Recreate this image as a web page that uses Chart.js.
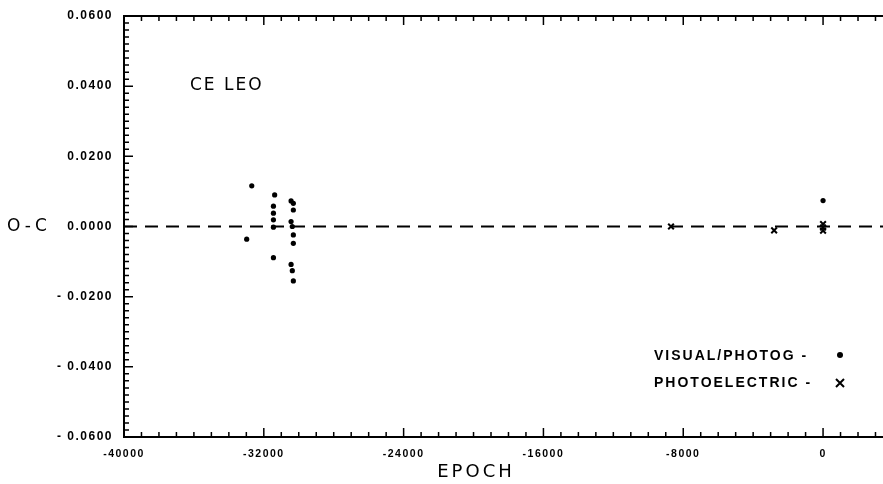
<!DOCTYPE html>
<html lang="en">
<head>
<meta charset="UTF-8">
<title>CE LEO O-C diagram</title>
<script src="https://cdn.jsdelivr.net/npm/chart.js@4.4.1/dist/chart.umd.min.js"></script>
<style>
    html, body { margin: 0; padding: 0; background: #fff; }
    canvas { display: block; }
</style>
</head>
<body>
<canvas id="chart" width="883" height="484"></canvas>
<script>
    // star name shown inside the plot
    var starName = "CE LEO";

    // visual / photographic timings (epoch, O-C in days)
    var visualEpoch = [-32690, -32980, -31380, -31450, -31450, -31450, -31450, -31450,
        -30440, -30310, -30310, -30440, -30370, -30310, -30310, -30440, -30370, -30310, 0];
    var visualOC = [0.0116, -0.0036, 0.0090, 0.0058, 0.0038, 0.0019, -0.0002, -0.0089,
        0.0073, 0.0066, 0.0047, 0.0014, 0.0000, -0.0024, -0.0048, -0.0108, -0.0126, -0.0155, 0.0074];

    // photoelectric timings
    var photoEpoch = [-8700, -2800, 0, 0, 0];
    var photoOC = [0.0000, -0.0011, 0.0007, -0.0003, -0.0012];

    // zero reference line
    var zeroEpoch = [-40000, 3430];
    var zeroOC = [0, 0];

    // labelled ticks
    var xTicks = [-40000, -32000, -24000, -16000, -8000, 0];
    var yTicks = [-0.06, -0.04, -0.02, 0, 0.02, 0.04, 0.06];

    var labels = ["VISUAL/PHOTOG", "PHOTOELECTRIC"];

    function pts(xs, ys) {
        return xs.map(function (v, i) { return { x: v, y: ys[i] }; });
    }

    // frame on top, inward ticks, texts and legend
    var frame = {
        id: "frame",
        beforeDraw: function (chart) {
            chart.ctx.letterSpacing = "1.5px";
        },
        afterDraw: function (chart) {
            var ctx = chart.ctx, a = chart.chartArea;
            var sx = chart.scales.x, sy = chart.scales.y;
            ctx.save();
            ctx.strokeStyle = "#000";
            ctx.lineWidth = 2;
            ctx.beginPath();
            ctx.moveTo(a.left - 1, a.top);
            ctx.lineTo(a.right, a.top);
            ctx.stroke();

            ctx.lineWidth = 1.5;
            ctx.beginPath();
            for (var v = sx.min; v <= sx.max; v += 1000) {
                var px = sx.getPixelForValue(v);
                var len = (v % 8000 === 0) ? 9 : 5;
                ctx.moveTo(px, a.bottom); ctx.lineTo(px, a.bottom - len);
                ctx.moveTo(px, a.top); ctx.lineTo(px, a.top + len);
            }
            for (var i = -30; i <= 30; i++) {
                var py = sy.getPixelForValue(i * 0.002);
                var l = (i % 10 === 0) ? 9 : 5;
                ctx.moveTo(a.left, py); ctx.lineTo(a.left + l, py);
            }
            ctx.stroke();

            // axis titles and star name
            ctx.fillStyle = "#000";
            ctx.textBaseline = "middle";
            ctx.textAlign = "left";
            ctx.font = "17px 'DejaVu Sans'";
            ctx.letterSpacing = "4px";
            ctx.fillText("O-C", 7, sy.getPixelForValue(0));
            ctx.letterSpacing = "2px";
            ctx.fillText(starName, 190, 86);
            ctx.font = "18px 'DejaVu Sans'";
            ctx.letterSpacing = "3px";
            ctx.textAlign = "center";
            ctx.fillText("EPOCH", 476, 472);

            // legend
            ctx.font = "bold 14px 'Liberation Sans'";
            ctx.letterSpacing = "2px";
            ctx.textAlign = "left";
            ctx.fillText(labels[0] + " -", 654, 356);
            ctx.fillText(labels[1] + " -", 654, 383);
            ctx.beginPath();
            ctx.arc(840, 355, 3, 0, Math.PI * 2);
            ctx.fill();
            ctx.lineWidth = 2;
            ctx.beginPath();
            ctx.moveTo(836, 379); ctx.lineTo(844, 387);
            ctx.moveTo(844, 379); ctx.lineTo(836, 387);
            ctx.stroke();
            ctx.restore();
        }
    };

    var ctx = document.getElementById("chart").getContext("2d");
    var chart = new Chart(ctx, {
        type: "scatter",
        data: {
            datasets: [{
                label: "zero",
                type: "line",
                data: pts(zeroEpoch, zeroOC),
                borderColor: "#000",
                borderWidth: 2.2,
                borderDash: [13, 8],
                pointRadius: 0
            }, {
                label: labels[0],
                data: pts(visualEpoch, visualOC),
                pointStyle: "circle",
                pointRadius: 2.6,
                backgroundColor: "#000",
                borderColor: "#000",
                borderWidth: 0
            }, {
                label: labels[1],
                data: pts(photoEpoch, photoOC),
                pointStyle: "crossRot",
                pointRadius: 4,
                borderColor: "#000",
                borderWidth: 2
            }]
        },
        options: {
            responsive: false,
            animation: false,
            layout: { autoPadding: false, padding: { top: 16, right: 0, left: 0, bottom: 0 } },
            plugins: {
                legend: { display: false },
                tooltip: { enabled: false }
            },
            scales: {
                x: {
                    type: "linear",
                    min: -40000,
                    max: 3430,
                    grid: { display: false },
                    border: { display: true, color: "#000", width: 2 },
                    afterBuildTicks: function (scale) {
                        scale.ticks = xTicks.map(function (v) { return { value: v }; });
                    },
                    afterFit: function (scale) {
                        scale.height = 47;
                        scale.paddingLeft = 0;
                        scale.paddingRight = 0;
                    },
                    ticks: {
                        color: "#000",
                        font: { family: "Liberation Sans", weight: "bold", size: 10.5 },
                        padding: 3,
                        maxRotation: 0,
                        autoSkip: false,
                        callback: function (v) { return String(v); }
                    }
                },
                y: {
                    min: -0.06,
                    max: 0.06,
                    grid: { display: false },
                    border: { display: true, color: "#000", width: 2 },
                    afterBuildTicks: function (scale) {
                        scale.ticks = yTicks.map(function (v) { return { value: v }; });
                    },
                    afterFit: function (scale) { scale.width = 124; },
                    ticks: {
                        color: "#000",
                        font: { family: "Liberation Sans", weight: "bold", size: 12 },
                        padding: 3,
                        autoSkip: false,
                        callback: function (v) {
                            var s = Math.abs(v).toFixed(4);
                            return v < -1e-9 ? "- " + s : s;
                        }
                    }
                }
            }
        },
        plugins: [frame]
    });
</script>
</body>
</html>
